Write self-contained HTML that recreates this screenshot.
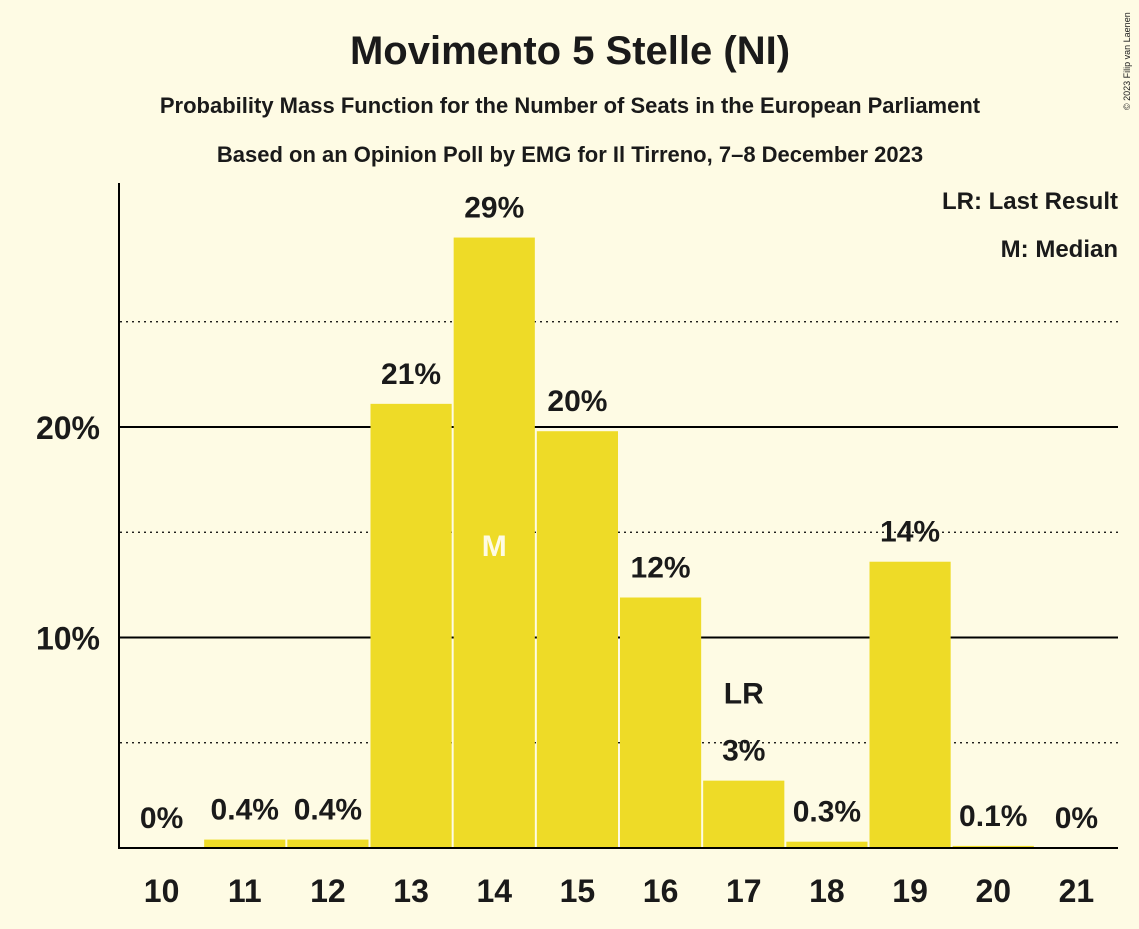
<!DOCTYPE html>
<html><head><meta charset="utf-8">
<style>
body{margin:0;background:#fefbe4;}
svg text{font-family:"Liberation Sans",sans-serif;font-weight:bold;fill:#1a1a1a;}
</style></head>
<body>
<svg id="chart" width="1139" height="924" xmlns="http://www.w3.org/2000/svg">
<rect width="1139" height="924" fill="#fefbe4"/>
<text x="570" y="64" text-anchor="middle" font-size="40">Movimento 5 Stelle (NI)</text>
<text x="570" y="113" text-anchor="middle" font-size="22">Probability Mass Function for the Number of Seats in the European Parliament</text>
<text x="570" y="162" text-anchor="middle" font-size="22">Based on an Opinion Poll by EMG for Il Tirreno, 7–8 December 2023</text>
<text x="1130" y="110" font-size="9" transform="rotate(-90 1130 110)" style="font-weight:normal">© 2023 Filip van Laenen</text>
<text x="1118" y="209" text-anchor="end" font-size="24">LR: Last Result</text>
<text x="1118" y="257" text-anchor="end" font-size="24">M: Median</text>
<g id="grid"></g>
<g id="bars"></g>
<g id="labels"></g>
<line x1="119" y1="183" x2="119" y2="849" stroke="#000" stroke-width="2"/>
<line x1="118" y1="848" x2="1118" y2="848" stroke="#000" stroke-width="2"/>
</svg>
<script>
const categories = [10,11,12,13,14,15,16,17,18,19,20,21];
const values = [0,0.4,0.4,21.1,29.0,19.8,11.9,3.2,0.3,13.6,0.1,0];
const valueLabels = ["0%","0.4%","0.4%","21%","29%","20%","12%","3%","0.3%","14%","0.1%","0%"];
const gridValues = [5,10,15,20,25];
const yTickValues = [10,20];
const yTickLabels = ["10%","20%"];
const medianSeat = 14;
const lastResultSeat = 17;

const NS="http://www.w3.org/2000/svg";
const x0=120, x1=1118, yBase=848, pxPerPct=21.05;
const bw=(x1-x0)/categories.length;
const xScale=i=>x0+bw*i;
const yScale=v=>yBase-v*pxPerPct;
function mk(tag,attrs,parent){const e=document.createElementNS(NS,tag);for(const k in attrs)e.setAttribute(k,attrs[k]);parent.appendChild(e);return e;}
const grid=document.getElementById('grid'),bars=document.getElementById('bars'),labels=document.getElementById('labels');
gridValues.forEach(v=>{
  const solid=v%10===0;
  const l=mk('line',{x1:x0,x2:x1,y1:yScale(v),y2:yScale(v),stroke:'#000','stroke-width':solid?2:1.2,'stroke-dasharray':solid?'none':'2,4'},grid);
  
  
});
yTickValues.forEach((v,i)=>{
  const t=mk('text',{x:100,y:yScale(v)+12,'text-anchor':'end','font-size':32},labels);
  t.textContent=yTickLabels[i];
  
  
});
categories.forEach((c,i)=>{
  const v=values[i];
  if(v>0){
    const r=mk('rect',{x:xScale(i)+1,y:yScale(v),width:bw-2,height:v*pxPerPct,fill:'#eedb27'},bars);
    
    
  }
  const cx=xScale(i)+bw/2;
  const t=mk('text',{x:cx,y:yScale(v)-20,'text-anchor':'middle','font-size':30},labels);
  t.textContent=valueLabels[i];
  
  
  const xt=mk('text',{x:cx,y:902,'text-anchor':'middle','font-size':32},labels);
  xt.textContent=c;
  
  
  if(c===medianSeat){
    const m=mk('text',{x:cx,y:yScale(v/2)+13,'text-anchor':'middle','font-size':30,style:'fill:#fefbe4'},labels);
    m.textContent='M';
    
    
  }
  if(c===lastResultSeat){
    const m=mk('text',{x:cx,y:yScale(v)-77,'text-anchor':'middle','font-size':30},labels);
    m.textContent='LR';
    
    
  }
});
</script>
</body></html>
